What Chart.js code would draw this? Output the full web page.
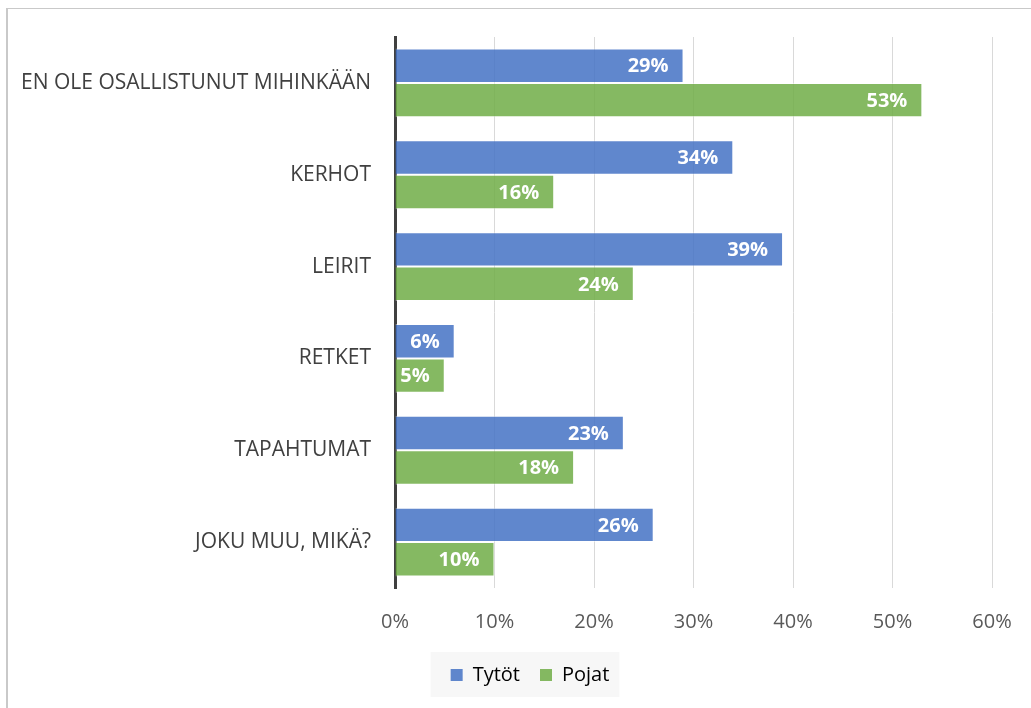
<!DOCTYPE html>
<html>
<head>
<meta charset="utf-8">
<script src="https://cdn.jsdelivr.net/npm/chart.js@4"></script>
<style>
    html, body { margin: 0; padding: 0; background: #fff; }
    #wrap { position: relative; width: 1031px; height: 708px; overflow: hidden; }
    #frame { position: absolute; left: 6px; top: 8px; width: 1100px; height: 800px; border: 1px solid #c9c9c9; border-left-width: 2px; }
    canvas { position: absolute; left: 0; top: 0; }
</style>
</head>
<body>
<div id="wrap">
    <div id="frame"></div>
    <canvas id="chart" width="1031" height="708"></canvas>
</div>
<script>
// ===================================
// DATA
// ===================================

const categories = ['EN OLE OSALLISTUNUT MIHINKÄÄN', 'KERHOT', 'LEIRIT', 'RETKET', 'TAPAHTUMAT', 'JOKU MUU, MIKÄ?'];
const seriesNames = ['Tytöt', 'Pojat'];
const tytot = [29, 34, 39, 6, 23, 26];
const pojat = [53, 16, 24, 5, 18, 10];
const xTicks = [0, 10, 20, 30, 40, 50, 60];

const FONT = "'Open Sans', sans-serif";

// ===================================
// PLUGINS
// ===================================

// white bold value labels, inside the end of each bar
const valueLabels = {
    id: 'valueLabels',
    afterDatasetsDraw(chart) {
        const ctx = chart.ctx;
        ctx.save();
        ctx.fillStyle = '#ffffff';
        ctx.font = "bold 20px " + FONT;
        ctx.textAlign = 'right';
        ctx.textBaseline = 'middle';
        chart.data.datasets.forEach((ds, i) => {
            chart.getDatasetMeta(i).data.forEach((bar, j) => {
                ctx.fillText(ds.data[j] + '%', bar.x - 15, bar.y + 1);
            });
        });
        ctx.restore();
    }
};

// legend sits a bit right of the canvas centre, on a light grey box
const legendBox = {
    id: 'legendBox',
    afterLayout(chart) {
        const legend = chart.legend;
        if (!legend) return;
        legend.left += 31;
        legend.right += 31;
    },
    beforeDraw(chart) {
        const boxes = chart.legend && chart.legend.legendHitBoxes;
        if (!boxes || !boxes.length) return;
        const left = Math.min(...boxes.map(b => b.left));
        const right = Math.max(...boxes.map(b => b.left + b.width));
        const top = Math.min(...boxes.map(b => b.top));
        const bottom = Math.max(...boxes.map(b => b.top + b.height));
        const cy = (top + bottom) / 2;
        const ctx = chart.ctx;
        ctx.save();
        ctx.fillStyle = '#f7f7f7';
        ctx.fillRect(left - 20, cy - 23, right - left + 30, 45);
        ctx.restore();
    }
};

// ===================================
// CHART
// ===================================

new Chart(document.getElementById('chart'), {
    type: 'bar',
    data: {
        labels: categories,
        datasets: [{
            label: seriesNames[0],
            data: tytot,
            backgroundColor: 'rgba(68, 114, 196, 0.85)',
            borderColor: 'rgba(255, 255, 255, 0.45)',
            borderWidth: 1
        }, {
            label: seriesNames[1],
            data: pojat,
            backgroundColor: 'rgba(112, 173, 71, 0.85)',
            borderColor: 'rgba(255, 255, 255, 0.45)',
            borderWidth: 1
        }]
    },
    options: {
        indexAxis: 'y',
        responsive: false,
        animation: false,
        layout: { padding: { left: 6, top: 37, right: 39, bottom: 13 } },
        datasets: { bar: { categoryPercentage: 0.75, barPercentage: 1 } },
        plugins: {
            tooltip: { enabled: false },
            legend: {
                position: 'bottom',
                labels: {
                    color: '#404040',
                    font: { family: FONT, size: 20 },
                    boxWidth: 12,
                    boxHeight: 12,
                    padding: 20,
                    generateLabels(chart) {
                        return chart.data.datasets.map((ds, i) => ({
                            text: ds.label,
                            fillStyle: ds.backgroundColor,
                            strokeStyle: ds.backgroundColor,
                            lineWidth: 0,
                            datasetIndex: i
                        }));
                    }
                }
            }
        },
        scales: {
            x: {
                min: 0,
                max: 60,
                afterBuildTicks(scale) {
                    scale.ticks = xTicks.map(v => ({ value: v }));
                },
                afterFit(scale) { scale.height = 57; },
                ticks: {
                    color: '#595959',
                    font: { family: FONT, size: 20 },
                    padding: 18,
                    callback: v => v + '%'
                },
                grid: {
                    drawTicks: true,
                    tickLength: 4,
                    tickColor: 'rgba(0,0,0,0)',
                    color: ctx => ctx.index === 0 ? 'rgba(0,0,0,0)' : '#d9d9d9',
                    lineWidth: 1
                },
                border: { display: false }
            },
            y: {
                afterFit(scale) { scale.width = 389; },
                ticks: {
                    color: '#404040',
                    font: { family: FONT, size: 21 },
                    padding: 24
                },
                grid: { display: false, drawTicks: false },
                border: { display: true, color: '#404040', width: 3 }
            }
        }
    },
    plugins: [legendBox, valueLabels]
});
</script>
</body>
</html>
